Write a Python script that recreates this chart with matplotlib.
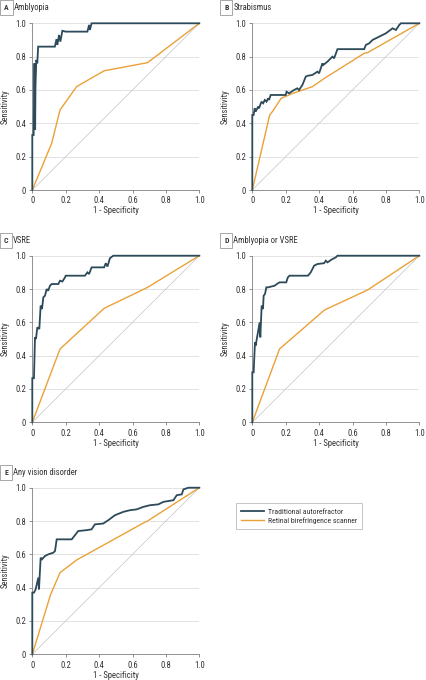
import matplotlib
matplotlib.use("Agg")
import matplotlib.pyplot as plt
from matplotlib import font_manager as fm
from matplotlib.transforms import offset_copy
from matplotlib.lines import Line2D

# pick a condensed sans face if one is installed
_chosen = None
_prefs = ["Liberation Sans Narrow", "Roboto Condensed", "Open Sans Condensed", "Noto Sans Condensed",
          "Noto Sans", "DejaVu Sans", "Open Sans", "Roboto", "Lato", "Inter"]
_cands = [f for f in fm.fontManager.ttflist
          if ("narrow" in f.name.lower() or "condensed" in f.name.lower())
          or str(f.stretch).lower() in ("condensed", "semi-condensed", "extra-condensed", "75", "87.5")]
for p in _prefs:
    for f in _cands:
        if f.name == p and f.weight in (400, "normal", "regular", "book") and f.style == "normal":
            _chosen = f
            break
    if _chosen:
        break
if _chosen is None and _cands:
    _chosen = _cands[0]

if _chosen is not None:
    plt.rcParams['font.family'] = [_chosen.name, 'DejaVu Sans']
    plt.rcParams['font.stretch'] = _chosen.stretch
    FS = 6.2
    LFS = 5.6
else:
    plt.rcParams['font.family'] = ['Roboto', 'DejaVu Sans']
    FS = 5.6
    LFS = 5.2

# ---------------- data ----------------
panel_letters = ["A", "B", "C", "D", "E"]
panel_titles = ["Amblyopia", "Strabismus", "VSRE", "Amblyopia or VSRE", "Any vision disorder"]
series_names = ["Traditional autorefractor", "Retinal birefringence scanner"]

ticks = [0, 0.2, 0.4, 0.6, 0.8, 1.0]
tick_labels = ["0", "0.2", "0.4", "0.6", "0.8", "1.0"]

# A: Amblyopia
a_trad_fpr = [0, 0, 0.008, 0.013, 0.017, 0.019, 0.024, 0.03, 0.035, 0.05, 0.135, 0.145, 0.15, 0.16, 0.168, 0.18, 0.2, 0.33, 0.34, 0.345, 0.355, 1.0]
a_trad_tpr = [0, 0.33, 0.33, 0.76, 0.36, 0.62, 0.78, 0.76, 0.86, 0.86, 0.86, 0.905, 0.87, 0.93, 0.89, 0.955, 0.95, 0.95, 0.99, 0.96, 1.0, 1.0]
a_rbs_fpr = [0, 0.116, 0.166, 0.265, 0.43, 0.69, 1.0]
a_rbs_tpr = [0, 0.28, 0.48, 0.62, 0.715, 0.764, 1.0]

# B: Strabismus
b_trad_fpr = [0, 0, 0.008, 0.014, 0.02, 0.035, 0.04, 0.055, 0.065, 0.075, 0.085, 0.095, 0.1, 0.11, 0.2, 0.205, 0.22, 0.25, 0.27, 0.28, 0.30, 0.32, 0.33, 0.36, 0.39, 0.40, 0.42, 0.425, 0.45, 0.48, 0.49, 0.51, 0.53, 0.67, 0.68, 0.70, 0.72, 0.76, 0.80, 0.84, 0.86, 0.88, 0.89, 1.0]
b_trad_tpr = [0, 0.45, 0.45, 0.49, 0.47, 0.50, 0.49, 0.53, 0.52, 0.54, 0.53, 0.55, 0.54, 0.57, 0.57, 0.59, 0.58, 0.60, 0.61, 0.60, 0.63, 0.68, 0.685, 0.69, 0.71, 0.70, 0.76, 0.75, 0.77, 0.80, 0.79, 0.845, 0.845, 0.845, 0.87, 0.88, 0.90, 0.92, 0.94, 0.97, 0.96, 0.99, 1.0, 1.0]
b_rbs_fpr = [0, 0.104, 0.12, 0.173, 0.243, 0.36, 0.432, 0.67, 0.69, 1.0]
b_rbs_tpr = [0, 0.45, 0.47, 0.55, 0.58, 0.62, 0.67, 0.82, 0.824, 1.0]

# C: VSRE
c_trad_fpr = [0, 0, 0.01, 0.016, 0.022, 0.03, 0.042, 0.05, 0.058, 0.066, 0.076, 0.086, 0.095, 0.106, 0.116, 0.156, 0.166, 0.18, 0.196, 0.2, 0.315, 0.33, 0.34, 0.355, 0.43, 0.44, 0.45, 0.465, 0.485, 1.0]
c_trad_tpr = [0, 0.265, 0.265, 0.51, 0.50, 0.57, 0.56, 0.70, 0.68, 0.75, 0.76, 0.80, 0.79, 0.82, 0.83, 0.83, 0.85, 0.845, 0.87, 0.88, 0.88, 0.90, 0.89, 0.93, 0.93, 0.955, 0.935, 0.985, 1.0, 1.0]
c_rbs_fpr = [0, 0.166, 0.43, 0.67, 0.69, 1.0]
c_rbs_tpr = [0, 0.44, 0.684, 0.80, 0.81, 1.0]

# D: Amblyopia or VSRE
d_trad_fpr = [0, 0, 0.008, 0.016, 0.02, 0.044, 0.048, 0.056, 0.064, 0.068, 0.076, 0.084, 0.094, 0.134, 0.147, 0.163, 0.203, 0.213, 0.223, 0.333, 0.35, 0.37, 0.39, 0.43, 0.44, 0.45, 0.48, 0.50, 0.51, 1.0]
d_trad_tpr = [0, 0.30, 0.30, 0.48, 0.46, 0.60, 0.51, 0.70, 0.68, 0.76, 0.77, 0.81, 0.81, 0.82, 0.83, 0.84, 0.84, 0.87, 0.88, 0.88, 0.90, 0.94, 0.95, 0.955, 0.97, 0.96, 0.98, 0.99, 1.0, 1.0]
d_rbs_fpr = [0, 0.163, 0.432, 0.69, 1.0]
d_rbs_tpr = [0, 0.44, 0.674, 0.794, 1.0]

# E: Any vision disorder
e_trad_fpr = [0, 0, 0.01, 0.02, 0.036, 0.04, 0.05, 0.058, 0.076, 0.096, 0.126, 0.136, 0.146, 0.156, 0.236, 0.275, 0.325, 0.355, 0.375, 0.425, 0.455, 0.495, 0.545, 0.585, 0.625, 0.665, 0.705, 0.755, 0.785, 0.845, 0.865, 0.895, 0.905, 0.935, 1.0]
e_trad_tpr = [0, 0.37, 0.37, 0.39, 0.46, 0.39, 0.58, 0.57, 0.59, 0.60, 0.61, 0.62, 0.69, 0.69, 0.69, 0.74, 0.745, 0.75, 0.78, 0.785, 0.805, 0.835, 0.855, 0.865, 0.87, 0.885, 0.895, 0.90, 0.915, 0.925, 0.955, 0.96, 0.99, 1.0, 1.0]
e_rbs_fpr = [0, 0.11, 0.166, 0.265, 0.669, 0.69, 1.0]
e_rbs_tpr = [0, 0.36, 0.49, 0.566, 0.79, 0.80, 1.0]

trad_fpr = [a_trad_fpr, b_trad_fpr, c_trad_fpr, d_trad_fpr, e_trad_fpr]
trad_tpr = [a_trad_tpr, b_trad_tpr, c_trad_tpr, d_trad_tpr, e_trad_tpr]
rbs_fpr = [a_rbs_fpr, b_rbs_fpr, c_rbs_fpr, d_rbs_fpr, e_rbs_fpr]
rbs_tpr = [a_rbs_tpr, b_rbs_tpr, c_rbs_tpr, d_rbs_tpr, e_rbs_tpr]

# ---------------- style ----------------
TRAD_C = "#2c4a59"
RBS_C = "#eaa137"
GRID_C = "#dedede"
SPINE_C = "#7f7f7f"
TEXT_C = "#333333"

W, H = 426, 680
fig = plt.figure(figsize=(W / 100, H / 100), dpi=100)

boxes = [
    (32.3, 23.3, 199.3, 190.0),
    (252.3, 23.3, 419.3, 190.0),
    (32.3, 255.7, 199.3, 422.3),
    (252.3, 255.7, 419.3, 422.3),
    (32.3, 487.7, 199.3, 654.3),
]

for i in range(5):
    l, t, r, b = boxes[i]
    ax = fig.add_axes([l / W, 1 - b / H, (r - l) / W, (b - t) / H])
    ax.set_xlim(0, 1)
    ax.set_ylim(0, 1)
    for y in ticks[1:]:
        ax.axhline(y, color=GRID_C, lw=0.6, zorder=0)
    ax.plot([0, 1], [0, 1], color="#c4c4c4", lw=0.5, zorder=1)
    ax.plot(rbs_fpr[i], rbs_tpr[i], color=RBS_C, lw=1.0, zorder=2, clip_on=False)
    ax.plot(trad_fpr[i], trad_tpr[i], color=TRAD_C, lw=1.3, zorder=3, clip_on=False,
            solid_joinstyle="miter")
    for s in ["top", "right"]:
        ax.spines[s].set_visible(False)
    for s in ["left", "bottom"]:
        ax.spines[s].set_color(SPINE_C)
        ax.spines[s].set_linewidth(0.6)
    ax.set_xticks(ticks)
    ax.set_xticklabels(tick_labels)
    ax.set_yticks(ticks)
    ax.set_yticklabels(tick_labels)
    ax.tick_params(axis="both", direction="out", length=2, width=0.6, color=SPINE_C,
                   labelsize=FS, labelcolor=TEXT_C, pad=2.5)
    ax.set_xlabel("1 - Specificity", fontsize=FS, color=TEXT_C)
    ax.set_ylabel("Sensitivity", fontsize=FS, color=TEXT_C)
    ax.xaxis.set_label_coords(0.5, -0.098)
    ax.yaxis.set_label_coords(-0.135, 0.5)

    tr_box = offset_copy(ax.transAxes, fig=fig, x=-26, y=15.5, units="dots")
    ax.text(0, 1, panel_letters[i], transform=tr_box, ha="center", va="center",
            fontsize=FS - 0.6, fontweight="bold", color=TEXT_C,
            bbox=dict(boxstyle="square,pad=0.5", fc="white", ec="#999999", lw=0.6))
    tr_t = offset_copy(ax.transAxes, fig=fig, x=-19, y=15.5, units="dots")
    ax.text(0, 1, panel_titles[i], transform=tr_t, ha="left", va="center",
            fontsize=FS, color=TEXT_C)

handles = [Line2D([0], [0], color=TRAD_C, lw=1.3), Line2D([0], [0], color=RBS_C, lw=1.0)]
leg = fig.legend(handles, series_names, loc="upper left",
                 bbox_to_anchor=(235.7 / W, 1 - 503.3 / H), fontsize=LFS,
                 frameon=True, fancybox=False, edgecolor="#aaaaaa", handlelength=3.0,
                 handletextpad=0.4, borderpad=0.7, labelspacing=0.25, borderaxespad=0)
leg.get_frame().set_linewidth(0.6)
for t in leg.get_texts():
    t.set_color(TEXT_C)

fig.savefig("out.png", dpi=100)
